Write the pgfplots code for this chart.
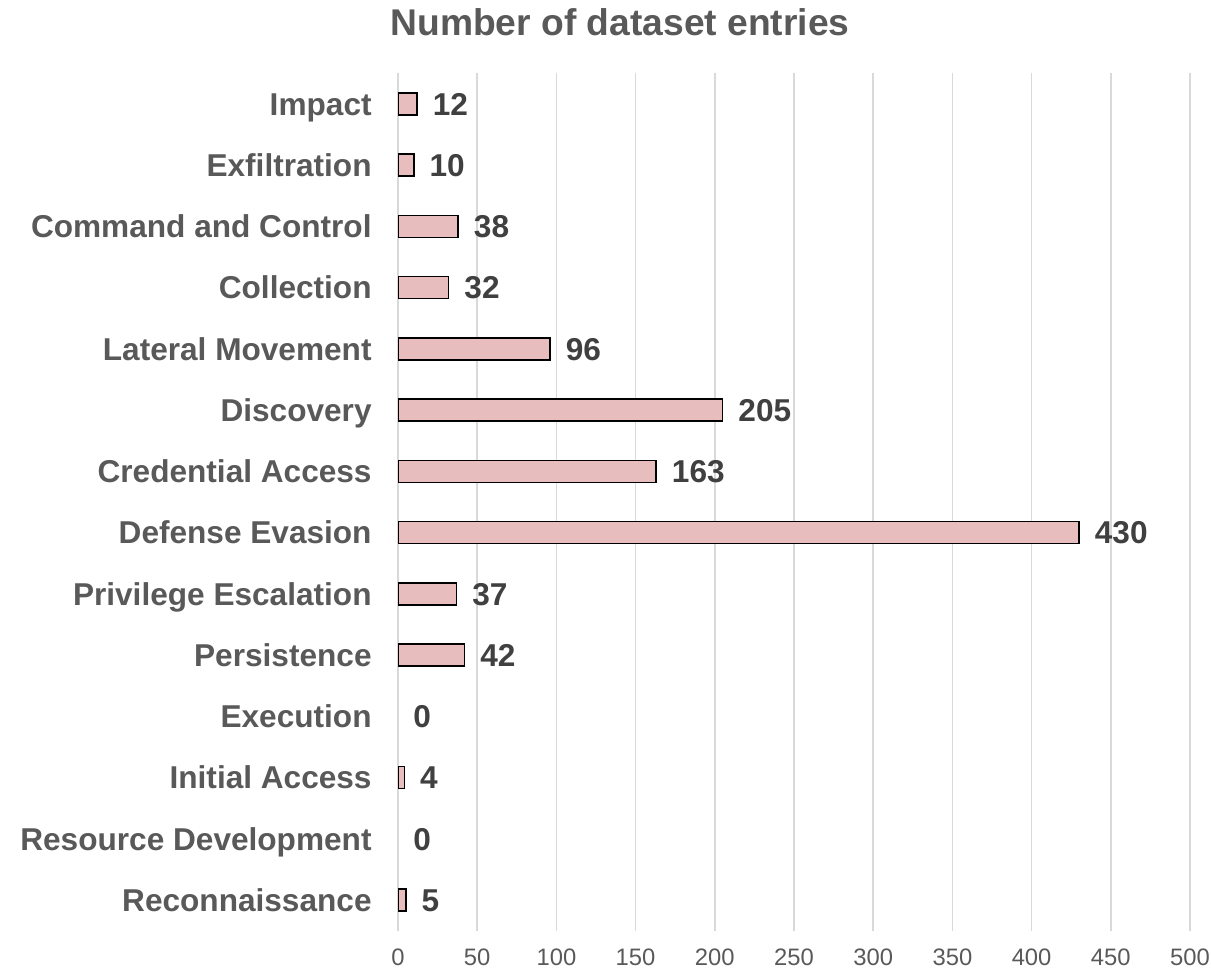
\documentclass[border=0pt]{standalone}
\usepackage{fontspec}
\setmainfont{Liberation Sans}
\usepackage{pgfplots}
\pgfplotsset{compat=1.18}
\definecolor{barfill}{RGB}{232,189,190}
\definecolor{labelgray}{RGB}{89,89,89}
\definecolor{valuegray}{RGB}{64,64,64}
\definecolor{gridgray}{RGB}{217,217,217}
\begin{document}
\begin{tikzpicture}
\begin{axis}[
  name=ax,
  scale only axis,
  width=396pt, height=428.6pt,
  xmin=0, xmax=500,
  ymin=-0.5, ymax=13.5,
  xtick={0,50,...,500},
  ytick={0,...,13},
  yticklabels={Reconnaissance,Resource Development,Initial Access,Execution,Persistence,Privilege Escalation,Defense Evasion,Credential Access,Discovery,Lateral Movement,Collection,Command and Control,Exfiltration,Impact},
  xmajorgrids,
  grid style={gridgray, line width=0.75pt},
  major tick length=0pt,
  axis line style={draw=none},
  /pgf/number format/assume math mode=true,
  xticklabel style={font=\fontsize{11.9}{14}\selectfont, color=labelgray, anchor=north, inner sep=0pt, text height=8.5pt, text depth=0pt, yshift=-8.7pt},
  yticklabel style={font=\bfseries\fontsize{15.8}{18}\selectfont, color=labelgray, anchor=east, inner sep=0pt, text height=11.3pt, text depth=0pt, xshift=-13pt},
  xbar, bar width=11pt, bar shift=0pt,
  nodes near coords,
  every node near coord/.append style={anchor=west, inner sep=0pt, text height=11.3pt, text depth=0pt, xshift=7.5pt, font=\bfseries\fontsize{15.8}{18}\selectfont, color=valuegray},
]
% non-zero counts, drawn as bars
\addplot[fill=barfill, draw=black, line width=0.75pt] coordinates {
  (5,0) (4,2) (42,4) (37,5) (430,6) (163,7) (205,8) (96,9) (32,10) (38,11) (10,12) (12,13)
};
% zero counts: label only
\addplot[draw=none, fill=none] coordinates {
  (0,1) (0,3)
};
\end{axis}
\node[font=\bfseries\fontsize{18.6}{22}\selectfont, color=labelgray] at ([xshift=111pt, yshift=25.7pt]ax.north west) {Number of dataset entries};
\pgfresetboundingbox
\path[use as bounding box] ([xshift=-199pt, yshift=-19.2pt]ax.south west) rectangle ([xshift=10.5pt, yshift=36.7pt]ax.north east);
\end{tikzpicture}
\end{document}
